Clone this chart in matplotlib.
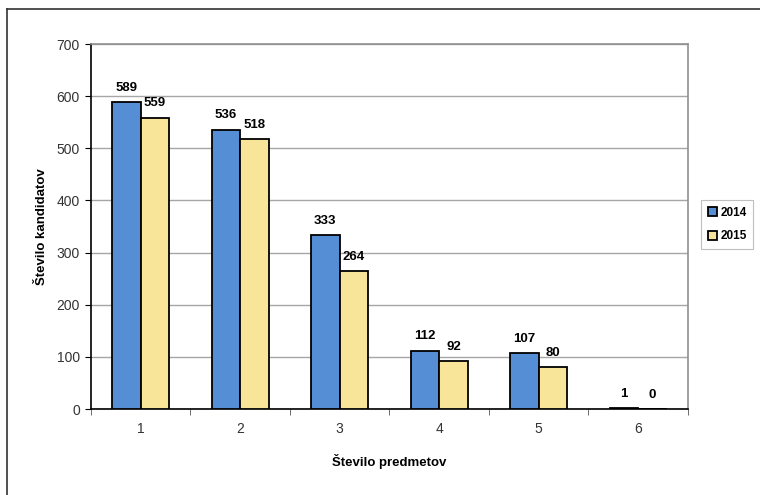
import numpy as np
import matplotlib.pyplot as plt
from matplotlib.lines import Line2D
from matplotlib import font_manager

names = {f.name for f in font_manager.fontManager.ttflist}
base_font = 'Liberation Sans Narrow' if 'Liberation Sans Narrow' in names else 'Liberation Sans'
plt.rcParams['font.family'] = [base_font, 'DejaVu Sans']

categories = ['1', '2', '3', '4', '5', '6']
series_names = ['2014', '2015']
values_2014 = [589, 536, 333, 112, 107, 1]
values_2015 = [559, 518, 264, 92, 80, 0]
colors = ['#558ED5', '#F9E59A']

fig = plt.figure(figsize=(7.6, 4.95), dpi=100)
ax = fig.add_axes([0.1197, 0.1737, 0.7853, 0.7374])

x = np.arange(len(categories))
w = 0.287
bars1 = ax.bar(x - w / 2, values_2014, w, color=colors[0], edgecolor='black', linewidth=1.3,
               label=series_names[0], zorder=3)
bars2 = ax.bar(x + w / 2, values_2015, w, color=colors[1], edgecolor='black', linewidth=1.3,
               label=series_names[1], zorder=3)

for bars in (bars1, bars2):
    for b in bars:
        h = b.get_height()
        ax.annotate(str(int(h)), (b.get_x() + b.get_width() / 2, h),
                    xytext=(0, 6), textcoords='offset points', ha='center', va='bottom',
                    fontsize=9.5, fontweight='bold')

ax.set_xlim(-0.5, len(categories) - 0.5)
ax.set_ylim(0, 700)
ax.set_yticks(range(0, 701, 100))
ax.set_xticks(x)
ax.set_xticklabels(categories)
ax.set_xticks(np.arange(-0.5, len(categories), 1), minor=True)
ax.tick_params(axis='x', which='major', length=0, pad=9, labelsize=10, labelcolor='#333333')
ax.tick_params(axis='x', which='minor', length=4, direction='out', color='#555555')
ax.tick_params(axis='y', length=4, direction='out', labelsize=10, labelcolor='#333333', pad=4)

ax.grid(axis='y', color='#A6A6A6', linewidth=1, zorder=0)
ax.set_axisbelow(True)
for s in ('left', 'bottom'):
    ax.spines[s].set_color('black')
    ax.spines[s].set_linewidth(1.2)
for s in ('top', 'right'):
    ax.spines[s].set_color('#909090')
    ax.spines[s].set_linewidth(1.2)

ax.set_ylabel('Število kandidatov', fontsize=9.5, fontweight='bold', labelpad=6)
ax.set_xlabel('Število predmetov', fontsize=9.5, fontweight='bold', labelpad=13)

leg = fig.legend(loc='upper left', bbox_to_anchor=(0.923, 0.595), frameon=True, fancybox=False,
                 prop={'weight': 'bold', 'size': 8.5}, handlelength=0.8, handleheight=0.8,
                 handletextpad=0.25, borderpad=0.55, labelspacing=0.95, borderaxespad=0)
leg.get_frame().set_edgecolor('#B0B0B0')
leg.get_frame().set_linewidth(0.8)

# outer chart frame (only left and top edges show)
fig.add_artist(Line2D([7 / 760, 7 / 760], [0, 1 - 9 / 495], color='#333333', linewidth=1.2))
fig.add_artist(Line2D([7 / 760, 1], [1 - 9 / 495, 1 - 9 / 495], color='#333333', linewidth=1.2))

fig.savefig('out.png', dpi=100)
